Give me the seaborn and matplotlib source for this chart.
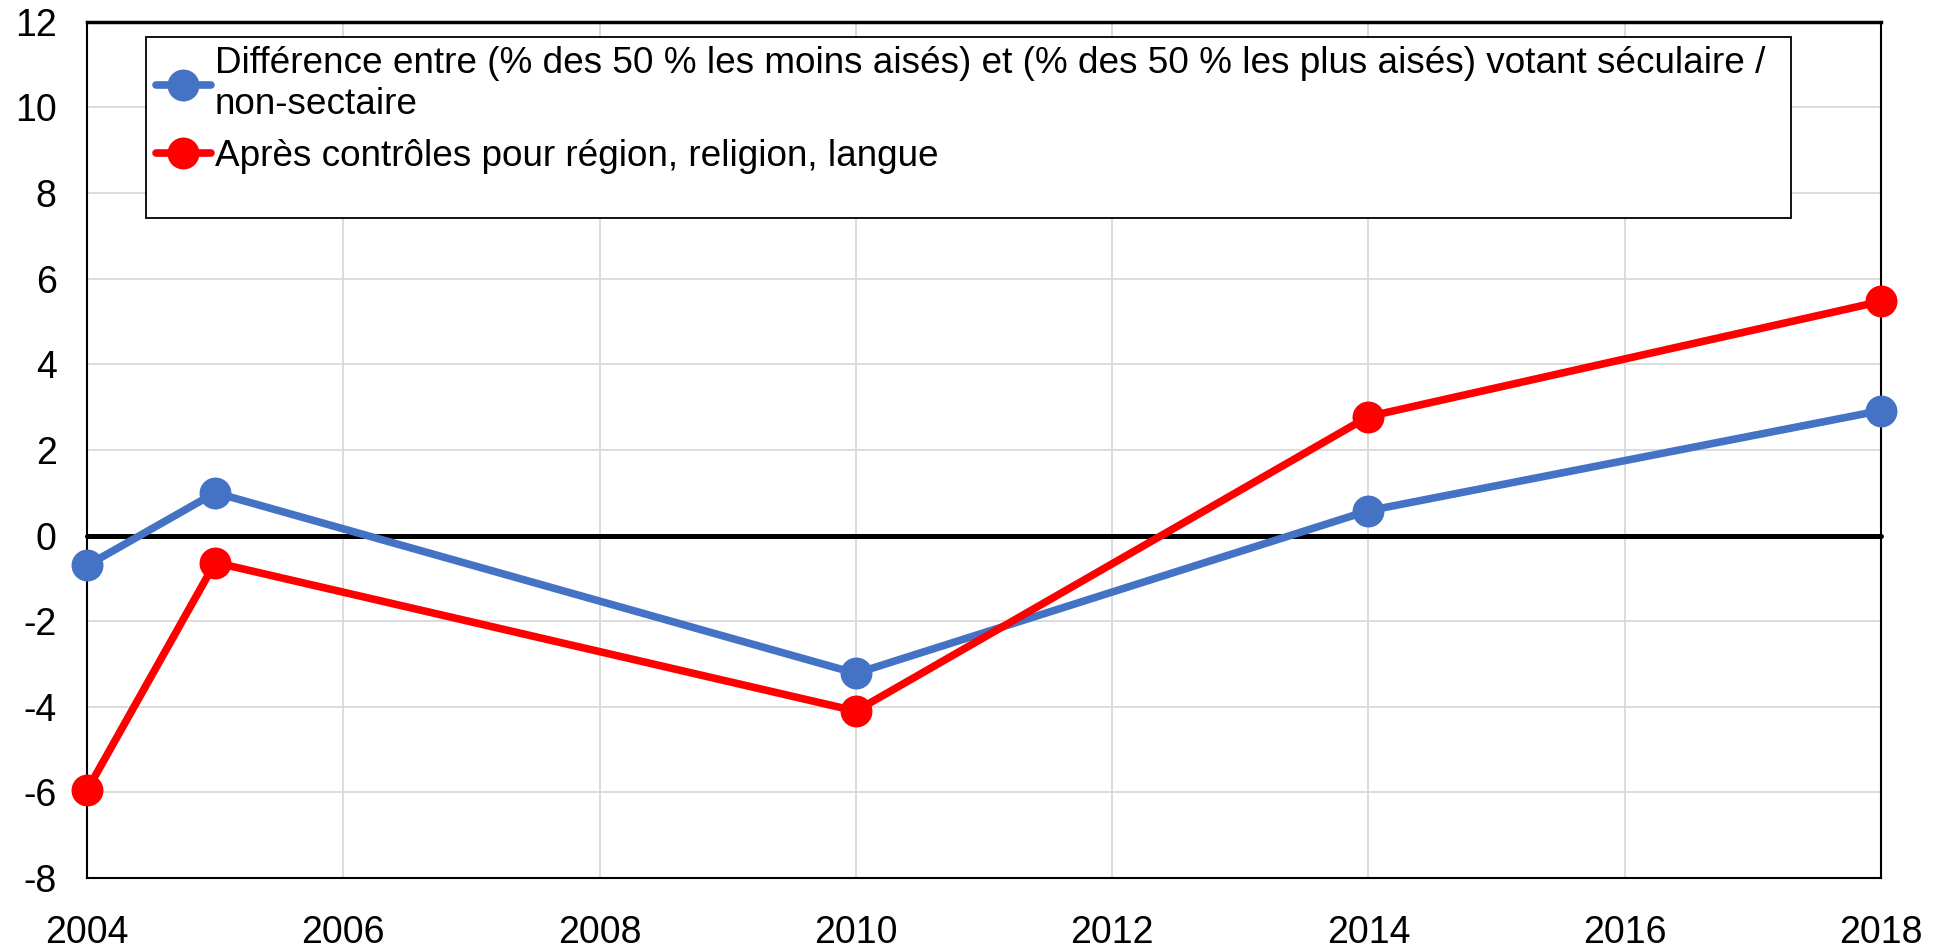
import pandas as pd
import numpy as np
import matplotlib
matplotlib.use("Agg")
import matplotlib.pyplot as plt
from matplotlib.patches import Rectangle
import seaborn as sns

years = [2004, 2005, 2010, 2014, 2018]
diff_raw = [-0.7, 1.0, -3.22, 0.58, 2.92]
diff_ctrl = [-5.95, -0.63, -4.1, 2.78, 5.47]

label_raw = ("Différence entre (% des 50 % les moins aisés) et (% des 50 % les plus aisés) votant séculaire /\n"
             "non-sectaire")
label_ctrl = "Après contrôles pour région, religion, langue"

df = pd.DataFrame({'year': years, 'raw': diff_raw, 'ctrl': diff_ctrl})

sns.set_style('white')
plt.rcParams['font.family'] = ['Liberation Sans', 'DejaVu Sans']
plt.rcParams['axes.unicode_minus'] = False

fig, ax = plt.subplots(figsize=(19.44, 9.5), dpi=100)
fig.subplots_adjust(left=0.0448, right=0.9676, top=0.977, bottom=0.0758)

ax.axhline(0, color='black', lw=3.6, zorder=2)

sns.lineplot(data=df, x='year', y='raw', ax=ax, color='#4472C4', lw=5.5,
             marker='o', markersize=23, markeredgewidth=0, label=label_raw, zorder=3)
sns.lineplot(data=df, x='year', y='ctrl', ax=ax, color='#FF0000', lw=5.5,
             marker='o', markersize=23, markeredgewidth=0, label=label_ctrl, zorder=4)
for ln in ax.lines:
    ln.set_clip_on(False)

ax.set_xlim(2004, 2018)
ax.set_ylim(-8, 12)
ax.set_xticks(range(2004, 2019, 2))
ax.set_yticks(range(-8, 13, 2))
ax.grid(True, color='#d9d9d9', lw=1.3)
ax.set_axisbelow(True)
ax.set_xlabel('')
ax.set_ylabel('')
ax.tick_params(axis='x', labelsize=27, pad=27, length=0, labelcolor='black')
ax.tick_params(axis='y', labelsize=27, pad=22, length=0, labelcolor='black')
for s in ax.spines.values():
    s.set_color('black')
    s.set_linewidth(1.5)
ax.spines['top'].set_linewidth(2.5)

# legend frame drawn separately so it can be taller than its content
frame = Rectangle((0.033, 0.771), 0.917, 0.211, transform=ax.transAxes,
                  facecolor='white', edgecolor='black', lw=1.3, zorder=5)
ax.add_patch(frame)
leg = ax.legend(loc='upper left', bbox_to_anchor=(0.033, 0.982), frameon=False,
                fontsize=26.6, handlelength=1.5, handletextpad=0.1, borderpad=0.25,
                labelspacing=0.45, borderaxespad=0, labelcolor='black')
leg.set_zorder(6)

fig.savefig('out.png', dpi=100)
